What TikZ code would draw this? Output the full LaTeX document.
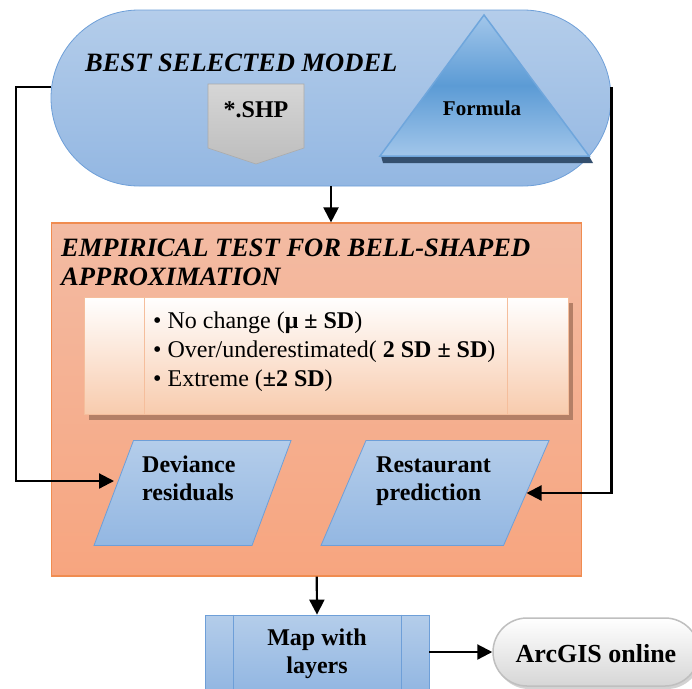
\documentclass[tikz,border=0pt]{standalone}
\usepackage{fontspec}
\setmainfont{Liberation Serif}
\usetikzlibrary{arrows.meta,shapes.geometric,shapes.misc,calc,shadows}
\definecolor{blueT}{HTML}{B4CDEA}
\definecolor{blueB}{HTML}{93B7E2}
\definecolor{blueD}{HTML}{6E9FD8}
\definecolor{orT}{HTML}{F3BBA3}
\definecolor{orB}{HTML}{F7A57F}
\definecolor{orD}{HTML}{F08C50}
\definecolor{peach}{HTML}{F8CBAD}
\definecolor{peachD}{HTML}{F5BE9C}
\definecolor{brownS}{HTML}{B47F66}
\definecolor{triL}{HTML}{A2C6EA}
\definecolor{triM}{HTML}{5B9BD5}
\definecolor{triE}{HTML}{6FA6DC}
\definecolor{triD}{HTML}{344F6E}
\definecolor{grayT}{HTML}{D6D6D6}
\definecolor{grayB}{HTML}{BDBDBD}
\definecolor{grayD}{HTML}{AAAAAA}
\definecolor{arcB}{HTML}{D6D6D6}
\definecolor{arcD}{HTML}{BFBFBF}
\begin{document}
\begin{tikzpicture}[x=1pt,y=-1pt,
  conn/.style={line width=2.2pt, -{Triangle[length=15pt,width=15pt]}},
  bluefill/.style={top color=blueT,bottom color=blueB,draw=blueD,line width=0.8pt},
  titlefont/.style={font=\fontsize{26.5}{29}\selectfont\bfseries\itshape, inner sep=0},
  bodyfont/.style={font=\fontsize{24}{29}\selectfont, inner sep=0},
  boldfont/.style={font=\fontsize{24}{29}\selectfont\bfseries, inner sep=0},
  sidebar/.style={peachD,line width=1pt}
]
\useasboundingbox (0,0) rectangle (692,688);
\clip (0,0) rectangle (692,688);
\fill[white] (0,0) rectangle (692,688);

% best selected model
\node[bluefill, rounded corners=88pt, minimum width=560pt, minimum height=176pt, inner sep=0] (model) at (331,98) {};
\node[titlefont, anchor=base west] (best) at (85,71) {BEST SELECTED MODEL};
\path[top color=grayT,bottom color=grayB,draw=grayD,line width=0.6pt] (208,84) -- (304,84) -- (304,148) -- (256,164) -- (208,148) -- cycle;
\node[boldfont, anchor=base] (shp) at (256,117) {*.SHP};
\fill[triD] (381,156) -- (589,156) -- (593,163) -- (383,163) -- cycle;
\path[top color=triL, bottom color=triL, middle color=triM, draw=triE, line width=1.5pt] (484,15) -- (589,156) -- (380,156) -- cycle;
\node[font=\fontsize{21}{25}\selectfont\bfseries, inner sep=0, anchor=base] (formula) at (482,115) {Formula};

% empirical test
\node[top color=orT,bottom color=orB,draw=orD,line width=1.2pt, minimum width=530pt,minimum height=353pt, inner sep=0] (emp) at (316.75,399.5) {};
\node[titlefont, anchor=base west] (t1) at (61,256) {EMPIRICAL TEST FOR BELL-SHAPED};
\node[titlefont, anchor=base west] (t2) at (61,285) {APPROXIMATION};

\fill[brownS] (89,303) rectangle (573,420);
\node[top color=white,bottom color=peach,draw=peachD,line width=1pt,minimum width=484pt,minimum height=117pt,inner sep=0] (list) at (326,355.5) {};
\draw[sidebar] ([xshift=-182pt]list.north) -- ([xshift=-182pt]list.south);
\draw[sidebar] ([xshift=181pt]list.north) -- ([xshift=181pt]list.south);
\node[bodyfont, anchor=base west] (b1) at (153,328) {• No change (\textbf{μ ± SD})};
\node[bodyfont, anchor=base west] (b2) at (153,357) {• Over/underestimated( \textbf{2 SD ± SD})};
\node[bodyfont, anchor=base west] (b3) at (153,386) {• Extreme (\textbf{±2 SD})};

% parallelograms
\path[bluefill] (133.5,440.5) -- (291,440.5) -- (252,545.5) -- (94,545.5) -- cycle;
\coordinate (devL) at (114,481);
\node[boldfont, anchor=base west] (dev1) at (142,472) {Deviance};
\node[boldfont, anchor=base west] (dev2) at (142,500) {residuals};
\path[bluefill] (366,440.5) -- (549,440.5) -- (503.5,545.5) -- (321,545.5) -- cycle;
\coordinate (restR) at (526.5,493);
\node[boldfont, anchor=base west] (rest1) at (376,472) {Restaurant};
\node[boldfont, anchor=base west] (rest2) at (376,500) {prediction};

% map
\node[bluefill, minimum width=224pt, minimum height=74pt, inner sep=0] (map) at (317,652) {};
\draw[blueD,line width=0.8pt] ([xshift=-84pt]map.north) -- ([xshift=-84pt]map.south);
\draw[blueD,line width=0.8pt] ([xshift=84pt]map.north) -- ([xshift=84pt]map.south);
\node[boldfont, anchor=base] (map1) at (317,645) {Map with};
\node[boldfont, anchor=base] (map2) at (317,673) {layers};

% arcgis
\node[rounded corners=34pt, top color=white, bottom color=arcB, draw=arcD, line width=1.5pt, minimum width=206pt, minimum height=68pt, inner sep=0, drop shadow={opacity=0.35, shadow xshift=2pt, shadow yshift=-3pt}] (arc) at (596,652) {};
\node[font=\fontsize{26}{30}\selectfont\bfseries, inner sep=0, anchor=base] (arct) at (596,662) {ArcGIS online};

% connectors
\draw[conn] (model.south) -- (model.south |- emp.north);
\draw[conn] (emp.south) -- (map.north);
\draw[conn] (map.east) -- (arc.west);
\draw[conn] ([yshift=11pt]model.west) -- ++(-35,0) |- (devL);
\draw[conn] ([yshift=11pt]model.east) |- (restR);
\end{tikzpicture}
\end{document}
